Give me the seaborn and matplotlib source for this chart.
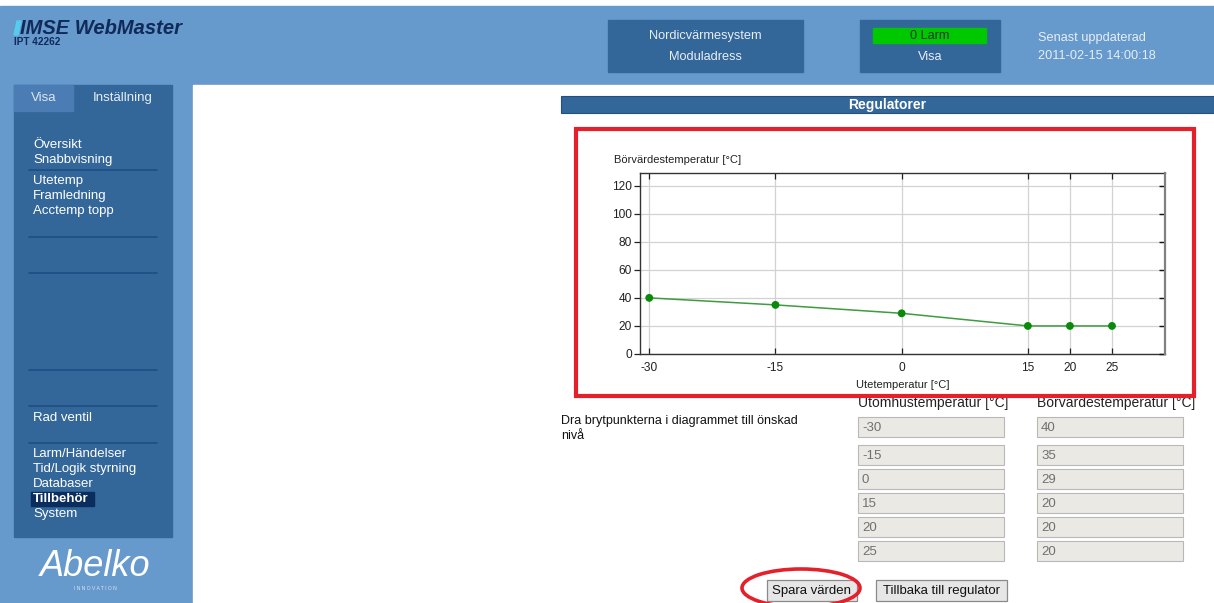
import pandas as pd
import matplotlib.pyplot as plt
import seaborn as sns
from matplotlib.patches import Rectangle, Ellipse, Polygon

# Breakpoints of the heating curve (outdoor temp -> setpoint temp)
ute_temp = [-30, -15, 0, 15, 20, 25]
bor_temp = [40, 35, 29, 20, 20, 20]
y_ticks = [0, 20, 40, 60, 80, 100, 120]

menu_top = ["Översikt", "Snabbvisning"]
menu_mid = ["Utetemp", "Framledning", "Acctemp topp"]
menu_bottom = ["Larm/Händelser", "Tid/Logik styrning", "Databaser", "Tillbehör", "System"]

sns.set_theme(style="white")
plt.rcParams['font.family'] = ['Liberation Sans', 'DejaVu Sans']
plt.rcParams['axes.unicode_minus'] = False

W, H = 1214, 603
HEAD = "#6699cc"
DARK = "#336699"
LINE = "#1d4f86"


def draw_page():
    fig = plt.figure(figsize=(W / 100, H / 100), dpi=100)
    bg = fig.add_axes([0, 0, 1, 1])
    bg.set_xlim(0, W)
    bg.set_ylim(H, 0)
    bg.axis("off")

    # page background
    bg.add_patch(Rectangle((0, 6), W, H, color=HEAD))
    bg.add_patch(Rectangle((193, 85), W - 193, H, color="white"))

    # logo
    bg.add_patch(Polygon([(17, 21), (21, 21), (18, 35), (14, 35)], color="#55ccee"))
    bg.text(20, 28, "IMSE WebMaster", fontsize=14.5, fontweight="bold", style="italic",
            color="#102a5a", va="center", ha="left")
    bg.text(14, 42, "IPT 42262", fontsize=7.2, fontweight="bold", color="#102a5a", va="center")

    # header boxes
    bg.add_patch(Rectangle((608, 20), 195, 52, color=DARK))
    bg.text(705, 36, "Nordicvärmesystem", fontsize=9.2, color="#e8eef6", ha="center", va="center")
    bg.text(705, 57, "Moduladress", fontsize=9.2, color="#e8eef6", ha="center", va="center")
    bg.add_patch(Rectangle((860, 20), 140, 52, color=DARK))
    bg.add_patch(Rectangle((873, 28), 113, 15, color="#00c800"))
    bg.text(930, 36, "0 Larm", fontsize=9.2, color="#1e3a2a", ha="center", va="center")
    bg.text(930, 57, "Visa", fontsize=9.2, color="#e8eef6", ha="center", va="center")
    bg.text(1038, 38, "Senast uppdaterad", fontsize=9.2, color="#e8eef6", va="center")
    bg.text(1038, 56, "2011-02-15 14:00:18", fontsize=9.2, color="#e8eef6", va="center")

    # sidebar
    bg.add_patch(Rectangle((14, 85), 158, 452, color=DARK))
    bg.add_patch(Rectangle((14, 85), 59, 26, color="#4b7db4"))
    bg.text(44, 98, "Visa", fontsize=9.5, color="#dde6f0", ha="center", va="center")
    bg.text(123, 98, "Inställning", fontsize=9.5, color="#e8eef6", ha="center", va="center")
    for i, lab in enumerate(menu_top):
        bg.text(33, 145 + 15 * i, lab, fontsize=9.5, color="white", va="center")
    for i, lab in enumerate(menu_mid):
        bg.text(33, 181 + 15 * i, lab, fontsize=9.5, color="white", va="center")
    bg.text(33, 418, "Rad ventil", fontsize=9.5, color="white", va="center")
    for i, lab in enumerate(menu_bottom):
        y = 454 + 15 * i
        if lab == "Tillbehör":
            bg.add_patch(Rectangle((31, y - 7), 63, 14, color="#0b2d5e"))
            bg.text(33, y, lab, fontsize=9.5, color="white", va="center", fontweight="bold")
        else:
            bg.text(33, y, lab, fontsize=9.5, color="white", va="center")
    for y in [170, 237, 273, 370, 406, 443]:
        bg.plot([29, 157], [y, y], color=LINE, lw=1.2)
    bg.text(95, 567, "Abelko", fontsize=26, style="italic", color="white", ha="center", va="center")
    bg.text(95, 589, "I N N O V A T I O N", fontsize=3.6, color="#dde6f0", ha="center", va="center")

    # content header
    bg.add_patch(Rectangle((561, 96), W - 561, 17, facecolor=DARK, edgecolor="#24507f", lw=0.8))
    bg.text(887, 104.5, "Regulatorer", fontsize=10, fontweight="bold", color="white",
            ha="center", va="center")

    # value table
    bg.text(561, 421, "Dra brytpunkterna i diagrammet till önskad", fontsize=9, color="#111111", va="center")
    bg.text(561, 436, "nivå", fontsize=9, color="#111111", va="center")
    bg.text(858, 403, "Utomhustemperatur [°C]", fontsize=10, color="#222222", va="center")
    bg.text(1037, 403, "Börvärdestemperatur [°C]", fontsize=10, color="#222222", va="center")
    for i, y in enumerate([417, 445, 469, 493, 517, 541]):
        for x0, val in [(858, ute_temp[i]), (1037, bor_temp[i])]:
            bg.add_patch(Rectangle((x0, y), 146, 20, facecolor="#ebe9e4", edgecolor="#b8b8b8", lw=0.8))
            bg.text(x0 + 4, y + 11, str(val), fontsize=9.5, color="#707070", va="center")

    # buttons
    for x0, w, lab in [(767, 90, "Spara värden"), (876, 131, "Tillbaka till regulator")]:
        bg.add_patch(Rectangle((x0, 580), w, 21, facecolor="#e6e6e6", edgecolor="#8a8a8a", lw=0.9))
        bg.text(x0 + w / 2, 591, lab, fontsize=9.5, color="#111111", ha="center", va="center")

    # red annotations
    bg.add_patch(Rectangle((576, 129), 618, 267, fill=False, edgecolor="#e5202b", lw=3, zorder=5))
    bg.add_patch(Ellipse((801, 588), 118, 38, fill=False, edgecolor="#e5202b", lw=2.6, zorder=5))
    bg.text(614, 160, "Börvärdestemperatur [°C]", fontsize=8, color="#222222", va="center")
    return fig


def draw_curve(fig):
    ax = fig.add_axes([640 / W, 1 - 354 / H, 525 / W, 181 / H])
    df = pd.DataFrame({"Utetemperatur": ute_temp, "Börvärde": bor_temp})
    sns.lineplot(data=df, x="Utetemperatur", y="Börvärde", color="#3f9b3f", lw=1.1, ax=ax)
    sns.scatterplot(data=df, x="Utetemperatur", y="Börvärde", color="#0a8a0a", s=32,
                    edgecolor="none", zorder=4, ax=ax)

    ax.set_xlim(-31.1, 31.3)
    ax.set_ylim(0, 129)
    ax.set_xticks(ute_temp)
    ax.set_yticks(y_ticks)
    ax.grid(True, color="#d2d2d2", lw=0.9)
    ax.set_axisbelow(True)
    for side in ["left", "bottom", "top"]:
        ax.spines[side].set_color("#333333")
        ax.spines[side].set_linewidth(1.0)
    ax.spines["right"].set_visible(False)

    ax.tick_params(axis="y", direction="out", length=4, width=0.9, pad=2, left=True,
                   right=False, colors="#222222", labelsize=8.6)
    ax.tick_params(axis="x", direction="in", length=4, width=0.9, pad=6, top=True, bottom=True,
                   colors="#222222", labelsize=8.6)

    # right side: inward ticks, no labels
    ax2 = ax.twinx()
    ax2.set_ylim(ax.get_ylim())
    ax2.set_yticks(y_ticks)
    ax2.tick_params(axis="y", direction="in", length=4, width=1.0, right=True,
                    labelright=False, color="#111111")
    for side in ["left", "bottom", "top"]:
        ax2.spines[side].set_visible(False)
    ax2.spines["right"].set_color("#808080")
    ax2.spines["right"].set_linewidth(1.6)

    ax.set_ylabel("")
    ax.set_xlabel("Utetemperatur [°C]", fontsize=8, color="#222222", labelpad=4)


fig = draw_page()
draw_curve(fig)
fig.savefig("out.png", dpi=100)
